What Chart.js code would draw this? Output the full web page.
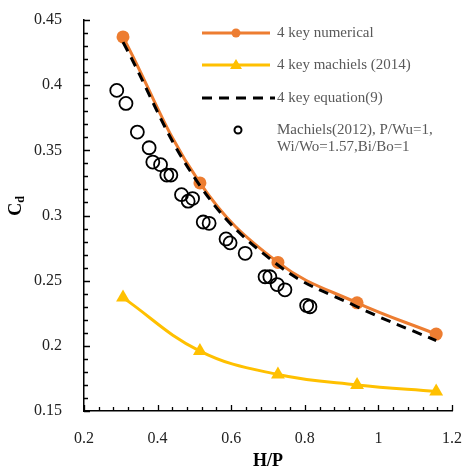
<!DOCTYPE html>
<html>
<head>
<meta charset="utf-8">
<script src="https://cdn.jsdelivr.net/npm/chart.js@4/dist/chart.umd.min.js"></script>
<style>
  html, body { margin: 0; padding: 0; background: #fff; }
  #wrap { width: 465px; height: 474px; }
</style>
</head>
<body>
<div id="wrap"><canvas id="cdChart" width="465" height="474"></canvas></div>
<script>
// H/P values of the simulated / reference curves
var hp = [0.306, 0.515, 0.727, 0.942, 1.157];
var cdNumerical = [0.437, 0.325, 0.264, 0.233, 0.209];
var cdMachiels2014 = [0.237, 0.196, 0.178, 0.170, 0.165];
var cdEquation = [0.433, 0.323, 0.262, 0.230, 0.204];

// Machiels (2012) experimental points
var expHp = [0.289, 0.314, 0.345, 0.377, 0.387, 0.408, 0.425, 0.436, 0.465, 0.483, 0.495,
             0.524, 0.540, 0.586, 0.597, 0.638, 0.692, 0.705, 0.725, 0.746, 0.805, 0.814];
var expCd = [0.396, 0.386, 0.364, 0.352, 0.341, 0.339, 0.331, 0.331, 0.316, 0.311, 0.313,
             0.295, 0.294, 0.282, 0.279, 0.271, 0.253, 0.253, 0.247, 0.243, 0.231, 0.230];

var xTicks = ["0.2", "0.4", "0.6", "0.8", "1", "1.2"];
var yTicks = ["0.15", "0.2", "0.25", "0.3", "0.35", "0.4", "0.45"];

var legendLabels = [
  ["4 key numerical"],
  ["4 key machiels (2014)"],
  ["4 key equation(9)"],
  ["Machiels(2012), P/Wu=1,", "Wi/Wo=1.57,Bi/Bo=1"]
];

var orange = "#ED7D31";
var yellow = "#FFC000";
var serif = "'Liberation Serif', 'Times New Roman', serif";

function pts(xs, ys) {
  return xs.map(function (x, i) { return { x: x, y: ys[i] }; });
}

// inside tick marks, like the excel axes
var insideTicks = {
  id: "insideTicks",
  afterDraw: function (chart) {
    var ctx = chart.ctx;
    var xs = chart.scales.x, ys = chart.scales.y;
    var area = chart.chartArea;
    ctx.save();
    ctx.strokeStyle = "#000";
    ctx.lineWidth = 1.3;
    ctx.beginPath();
    for (var i = 0; i <= 25; i++) {
      var px = Math.round(xs.getPixelForValue(0.2 + i * 0.04)) + 0.5;
      var len = (i % 5 === 0) ? 6 : 4;
      ctx.moveTo(px, area.bottom);
      ctx.lineTo(px, area.bottom - len);
    }
    for (var j = 0; j <= 30; j++) {
      var py = Math.round(ys.getPixelForValue(0.15 + j * 0.01)) + 0.5;
      var l2 = (j % 5 === 0) ? 6 : 4;
      ctx.moveTo(area.left, py);
      ctx.lineTo(area.left + l2, py);
    }
    ctx.stroke();

    // y title C_d
    ctx.translate(16, 206);
    ctx.rotate(-Math.PI / 2);
    ctx.fillStyle = "#000";
    ctx.textBaseline = "middle";
    ctx.font = "bold 18px " + serif;
    var cw = ctx.measureText("C").width;
    ctx.font = "bold 12px " + serif;
    var dw = ctx.measureText("d").width;
    var start = -(cw + dw) / 2;
    ctx.font = "bold 18px " + serif;
    ctx.fillText("C", start, 0);
    ctx.font = "bold 12px " + serif;
    ctx.fillText("d", start + cw, 5);
    ctx.restore();
  }
};

// legend placed in the upper right of the plot
var cornerLegend = {
  id: "cornerLegend",
  afterDraw: function (chart) {
    var ctx = chart.ctx;
    var rows = [33, 65, 98, 130];
    var x0 = 202, x1 = 270, tx = 277;
    ctx.save();
    ctx.lineCap = "butt";
    // numerical
    ctx.strokeStyle = orange; ctx.lineWidth = 3;
    ctx.beginPath(); ctx.moveTo(x0, rows[0]); ctx.lineTo(x1, rows[0]); ctx.stroke();
    ctx.fillStyle = orange;
    ctx.beginPath(); ctx.arc((x0 + x1) / 2, rows[0], 4.5, 0, Math.PI * 2); ctx.fill();
    // machiels 2014
    ctx.strokeStyle = yellow;
    ctx.beginPath(); ctx.moveTo(x0, rows[1]); ctx.lineTo(x1, rows[1]); ctx.stroke();
    ctx.fillStyle = yellow;
    var cx = (x0 + x1) / 2;
    ctx.beginPath();
    ctx.moveTo(cx, rows[1] - 6); ctx.lineTo(cx + 6, rows[1] + 4); ctx.lineTo(cx - 6, rows[1] + 4);
    ctx.closePath(); ctx.fill();
    // equation
    ctx.strokeStyle = "#000";
    ctx.setLineDash([10, 7]);
    ctx.beginPath(); ctx.moveTo(x0, rows[2]); ctx.lineTo(x1 + 5, rows[2]); ctx.stroke();
    ctx.setLineDash([]);
    // experiment
    ctx.lineWidth = 2;
    ctx.beginPath(); ctx.arc(cx + 2, rows[3], 3.5, 0, Math.PI * 2); ctx.stroke();

    ctx.fillStyle = "#595959";
    ctx.font = "15px " + serif;
    ctx.textBaseline = "middle";
    legendLabels.forEach(function (lines, i) {
      lines.forEach(function (t, k) {
        ctx.fillText(t, tx, rows[i] + k * 17);
      });
    });
    ctx.restore();
  }
};

var ctx = document.getElementById("cdChart").getContext("2d");
var myChart = new Chart(ctx, {
  type: "line",
  data: {
    datasets: [
      {
        label: "4 key equation(9)",
        data: pts(hp, cdEquation),
        borderColor: "#000",
        borderWidth: 3,
        borderDash: [10, 7],
        pointRadius: 0,
        tension: 0.4,
        order: 0
      },
      {
        label: "4 key numerical",
        data: pts(hp, cdNumerical),
        borderColor: orange,
        backgroundColor: orange,
        borderWidth: 3,
        pointRadius: 6.5,
        pointBorderWidth: 0,
        tension: 0.4,
        order: 1
      },
      {
        label: "4 key machiels (2014)",
        data: pts(hp, cdMachiels2014),
        borderColor: yellow,
        backgroundColor: yellow,
        borderWidth: 3,
        pointStyle: "triangle",
        pointRadius: 8,
        pointBorderWidth: 0,
        tension: 0.4,
        order: 2
      },
      {
        type: "scatter",
        label: "Machiels(2012), P/Wu=1, Wi/Wo=1.57,Bi/Bo=1",
        data: pts(expHp, expCd),
        showLine: false,
        borderColor: "#000",
        backgroundColor: "rgba(0,0,0,0)",
        pointRadius: 6.5,
        pointBorderWidth: 1.8,
        order: 3
      }
    ]
  },
  options: {
    responsive: false,
    animation: false,
    layout: { padding: { left: 0, right: 13, top: 20, bottom: 0 } },
    scales: {
      x: {
        type: "linear",
        min: 0.2,
        max: 1.2,
        afterFit: function (s) { s.height = 63; },
        afterBuildTicks: function (s) {
          s.ticks = xTicks.map(function (t) { return { value: parseFloat(t) }; });
        },
        ticks: {
          padding: 3,
          color: "#222",
          font: { family: serif, size: 16 },
          maxRotation: 0,
          callback: function (v, i) { return xTicks[i]; }
        },
        grid: { display: true, drawOnChartArea: false, drawTicks: true, tickLength: 15, tickColor: "rgba(0,0,0,0)" },
        border: { color: "#000", width: 1.5 },
        title: {
          display: true,
          text: "H/P",
          color: "#000",
          font: { family: serif, size: 18, weight: "bold" },
          padding: { top: 0, bottom: 2 }
        }
      },
      y: {
        type: "linear",
        min: 0.15,
        max: 0.45,
        afterFit: function (s) { s.width = 84; },
        afterBuildTicks: function (s) {
          s.ticks = yTicks.map(function (t) { return { value: parseFloat(t) }; });
        },
        ticks: {
          padding: 3,
          color: "#222",
          font: { family: serif, size: 16 },
          callback: function (v, i) { return yTicks[i]; }
        },
        grid: { display: true, drawOnChartArea: false, drawTicks: true, tickLength: 19, tickColor: "rgba(0,0,0,0)" },
        border: { color: "#000", width: 1.5 }
      }
    },
    plugins: {
      legend: { display: false },
      tooltip: { enabled: false }
    }
  },
  plugins: [insideTicks, cornerLegend]
});
</script>
</body>
</html>
